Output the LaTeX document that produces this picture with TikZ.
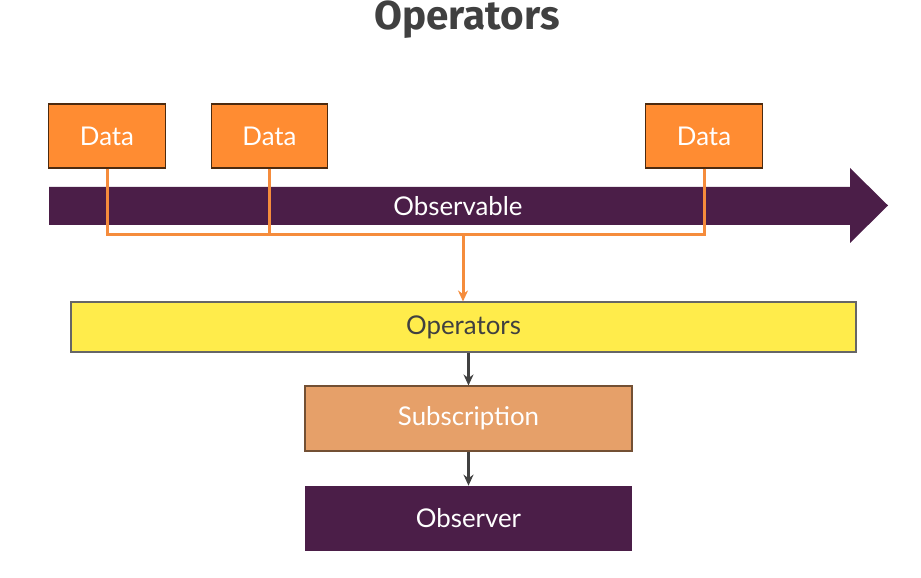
\documentclass[tikz,border=0pt]{standalone}
\usepackage{fontspec}
\setmainfont{Lato}
\newfontfamily\titlefont{Fira Sans}
\definecolor{datac}{RGB}{255,140,50}
\definecolor{linec}{RGB}{245,140,60}
\definecolor{obsc}{RGB}{75,30,72}
\definecolor{opc}{RGB}{255,236,75}
\definecolor{subc}{RGB}{230,160,105}
\definecolor{darkc}{RGB}{64,64,64}
\usetikzlibrary{
	arrows.meta,
	positioning,
	calc
}
\tikzset{
  % arrow
	cstra/.style      ={-{Stealth[length=0.22cm,width=0.2cm]}},   % right arrow
	cstlink/.style    ={line width=0.06cm, linec},                 % data link
	cstflow/.style    ={line width=0.05cm, darkc, -{Stealth[length=0.22cm,width=0.2cm]}},
  % node
	cstfont/.style    ={font=\fontsize{14.7}{17}\selectfont},
	cstdata/.style    ={cstfont,fill=datac,draw=black!70!datac,text=white,minimum width=2.33cm,minimum height=1.28cm,line width=0.6pt},
	cstop/.style      ={cstfont,fill=opc,draw=darkc!80,text=darkc,minimum width=15.7cm,minimum height=1cm,line width=0.6pt},
	cstsub/.style     ={cstfont,fill=subc,draw=black!50!subc,text=white,minimum width=6.54cm,minimum height=1.3cm,line width=0.6pt},
	cstobs/.style     ={cstfont,fill=obsc,text=white,minimum width=6.54cm,minimum height=1.3cm}
}

\begin{document}
\begin{tikzpicture}
				\useasboundingbox (0,0) rectangle (18.42,-11.56);
				\node[text=darkc,font=\titlefont\bfseries\fontsize{23}{26}\selectfont] (title) at (9.34,-0.4) {Operators};
				% observable stream
				\fill[obsc] (0.98,-3.74)--(17.0,-3.74)--(17.0,-3.36)--(17.76,-4.11)--(17.0,-4.86)--(17.0,-4.5)--(0.98,-4.5)--cycle;
				\node[cstfont,text=white] (stream) at (9.16,-4.12) {Observable};
				\node[cstdata] (d1) at (2.14,-2.72) {Data};
				\node[cstdata] (d2) at (5.39,-2.72) {Data};
				\node[cstdata] (d3) at (14.08,-2.72) {Data};
				\node[cstop] (op) at (9.27,-6.54) {Operators};
				\node[cstsub] (sub) at (9.37,-8.37) {Subscription};
				\node[cstobs] (obs) at (9.37,-10.37) {Observer};
				\coordinate (join) at (9.26,-4.7);
				\draw[cstlink] (d1.south)|-(join);
				\draw[cstlink] (d2.south)--(d2.south|-join);
				\draw[cstlink] (d3.south)|-(join);
				\draw[cstlink,cstra] (join)--(join|-op.north);
				\draw[cstflow] (op.south-|sub.north)--(sub.north);
				\draw[cstflow] (sub.south)--(obs.north);
			\end{tikzpicture}
\end{document}
